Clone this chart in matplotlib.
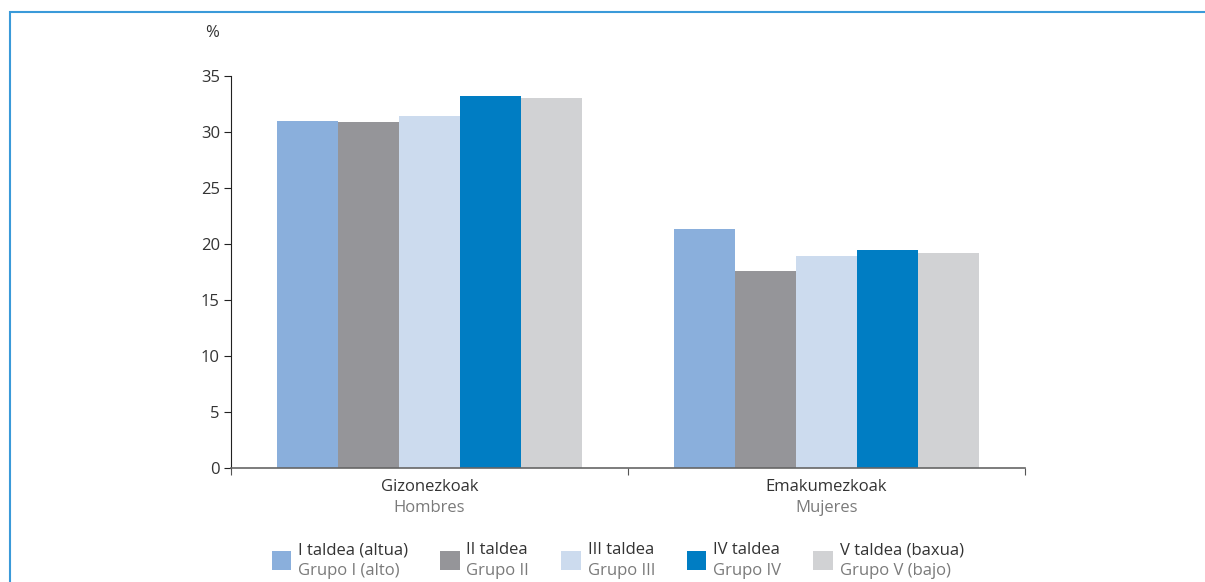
import numpy as np
import matplotlib
matplotlib.use('Agg')
from matplotlib import pyplot as plt
from matplotlib.patches import Rectangle
from matplotlib.offsetbox import (TextArea, DrawingArea, HPacker, VPacker,
                                  AnchoredOffsetbox)

plt.rcParams['font.family'] = ['Open Sans', 'DejaVu Sans']

categories = ['Gizonezkoak', 'Emakumezkoak']
categories_es = ['Hombres', 'Mujeres']
groups = ['I taldea (altua)', 'II taldea', 'III taldea', 'IV taldea', 'V taldea (baxua)']
groups_es = ['Grupo I (alto)', 'Grupo II', 'Grupo III', 'Grupo IV', 'Grupo V (bajo)']
values = [
    [31.0, 21.3],
    [30.9, 17.6],
    [31.4, 18.9],
    [33.2, 19.5],
    [33.0, 19.2],
]
colors = ['#8aafdc', '#959599', '#ccdbee', '#007dc3', '#d1d2d4']
yticks = [0, 5, 10, 15, 20, 25, 30, 35]

dark = '#333333'
grey = '#7a7a7a'

fig = plt.figure(figsize=(12.05, 5.82), dpi=100)
ax = fig.add_axes([231 / 1205, 1 - 468 / 582, 794 / 1205, 392 / 582])

x = np.arange(len(categories))
w = 0.154
for i, vals in enumerate(values):
    ax.bar(x + (i - 2) * w, vals, width=w, color=colors[i], linewidth=0)

ax.set_xlim(-0.5, 1.5)
ax.set_ylim(0, 35)
ax.set_yticks(yticks)
ax.set_xticks([-0.5, 0.5, 1.5])
ax.set_xticklabels([])
ax.set_xticks(x, minor=True)
ax.set_xticklabels(categories, minor=True)
ax.tick_params(axis='x', which='minor', length=0, pad=8, labelsize=12, labelcolor=dark)
ax.tick_params(axis='x', which='major', length=5, color='#555555', direction='out')
ax.tick_params(axis='y', length=5, color='#222222', labelsize=12, labelcolor=dark, pad=3)
for s in ['top', 'right']:
    ax.spines[s].set_visible(False)
ax.spines['left'].set_color('#222222')
ax.spines['bottom'].set_color('#666666')
ax.spines['bottom'].set_linewidth(1.2)

for xi, lab in zip(x, categories_es):
    ax.annotate(lab, xy=(xi, 0), xycoords=('data', 'axes fraction'),
                xytext=(0, -32), textcoords='offset pixels',
                ha='center', va='top', fontsize=12, color=grey)

ax.annotate('%', xy=(0, 1), xycoords='axes fraction', xytext=(-19, 43),
            textcoords='offset pixels', ha='center', va='center',
            fontsize=12, color=dark)

# legend: square + two coloured lines
items = []
for c, g1, g2 in zip(colors, groups, groups_es):
    da = DrawingArea(14, 14, 0, 0)
    da.add_artist(Rectangle((0, 0), 14, 14, fc=c, ec='none'))
    txt = VPacker(children=[TextArea(g1, textprops=dict(color=dark, fontsize=12)),
                            TextArea(g2, textprops=dict(color=grey, fontsize=12))],
                  align='left', pad=0, sep=3)
    items.append(HPacker(children=[da, txt], align='center', pad=0, sep=5))
row = HPacker(children=items, align='center', pad=0, sep=23)
leg = AnchoredOffsetbox(loc='upper center', child=row, pad=0, frameon=False,
                        bbox_to_anchor=(0.487, -0.19), bbox_transform=ax.transAxes,
                        borderpad=0)
ax.add_artist(leg)

# blue frame
fig.patches.append(Rectangle((10 / 1205, -0.1), 1.2, 1 - 12 / 582 + 0.1,
                             transform=fig.transFigure, fill=False,
                             ec='#3a9ad9', lw=1.5, clip_on=False))

fig.savefig('out.png', dpi=100)
